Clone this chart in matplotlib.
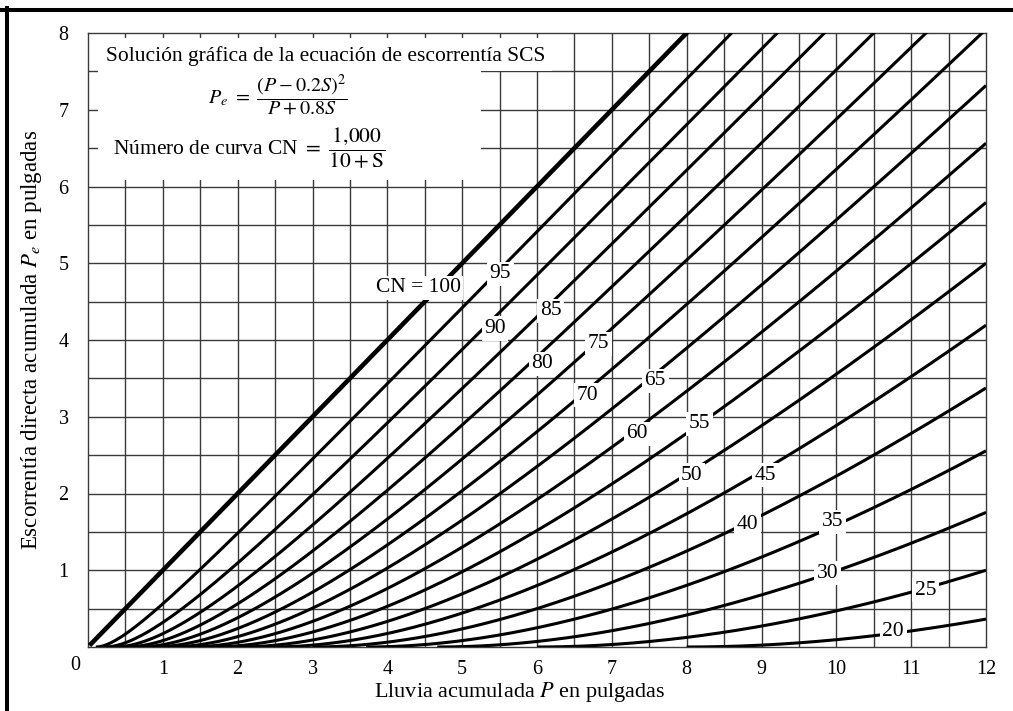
import numpy as np
import matplotlib
matplotlib.use("Agg")
import matplotlib.pyplot as plt
from matplotlib.patches import Rectangle
from matplotlib.lines import Line2D

plt.rcParams['font.family'] = ['Liberation Serif', 'DejaVu Serif']
plt.rcParams['mathtext.fontset'] = 'stix'

# ---- data ----
cn_values = [20, 25, 30, 35, 40, 45, 50, 55, 60, 65, 70, 75, 80, 85, 90, 95, 100]
label_text = ["20", "25", "30", "35", "40", "45", "50", "55", "60", "65",
              "70", "75", "80", "85", "90", "95", "CN = 100"]
label_x = [10.76, 11.19, 9.88, 9.95, 8.81, 9.05, 8.07, 8.17, 7.34, 7.58,
           6.67, 6.82, 6.07, 6.18, 5.44, 5.51, 4.41]
label_y = [0.20, 0.74, 0.96, 1.63, 1.59, 2.24, 2.24, 2.91, 2.78, 3.47,
           3.28, 3.95, 3.69, 4.38, 4.15, 4.86, 4.68]
x_ticks = [1, 2, 3, 4, 5, 6, 7, 8, 9, 10, 11, 12]
y_ticks = [1, 2, 3, 4, 5, 6, 7, 8]

W, H = 1013, 711
fig = plt.figure(figsize=(W / 100, H / 100), dpi=100)
ax = fig.add_axes([88 / W, (H - 647) / H, (986 - 88) / W, (647 - 33) / H])
ax.set_xlim(0, 12)
ax.set_ylim(0, 8)

# grid (manual, under the white box)
gc = '#3a3a3a'
ax.vlines(np.arange(0.5, 12, 0.5), 0, 8, colors=gc, lw=1.0, zorder=1)
ax.hlines(np.arange(0.5, 8, 0.5), 0, 12, colors=gc, lw=1.0, zorder=1)

# white box for the text block
ax.add_patch(Rectangle((0.14, 6.08), 5.25 - 0.14, 7.93 - 6.08, facecolor='white',
                       edgecolor='none', zorder=1.5))
ax.add_patch(Rectangle((0.14, 7.5), 6.2 - 0.14, 7.93 - 7.5, facecolor='white',
                       edgecolor='none', zorder=1.5))

# curves from the SCS equation shown on the chart
for cn in cn_values:
    S = 1000.0 / cn - 10.0
    P = np.linspace(0.2 * S, 12, 600)
    Pe = (P - 0.2 * S) ** 2 / (P + 0.8 * S)
    ax.plot(P, Pe, color='black', lw=3.3 if cn == 100 else 2.2,
            solid_capstyle='butt', zorder=3)

for t, x, y in zip(label_text, label_x, label_y):
    ax.text(x, y, t, ha='center', va='center', fontsize=15.5, zorder=4,
            bbox=dict(facecolor='white', edgecolor='none', pad=1.8))

# text block
ax.text(3.17, 7.70, "Solución gráfica de la ecuación de escorrentía SCS",
        ha='center', va='center', fontsize=15.5, zorder=4)
ax.text(2.53, 7.20, r"$P_e\ =\ \dfrac{(P - 0.2S)^2}{P + 0.8S}$",
        ha='center', va='center', fontsize=14.5, zorder=4)
ax.text(2.15, 6.50, r"Número de curva CN $=\ \dfrac{1{,}000}{10 + \mathrm{S}}$",
        ha='center', va='center', fontsize=15.5, zorder=4)

# axes styling
for s in ax.spines.values():
    s.set_color(gc)
    s.set_linewidth(1.0)
ax.set_xticks(x_ticks)
ax.set_yticks(y_ticks)
ax.tick_params(axis='both', length=0, labelsize=14.5)
ax.tick_params(axis='x', pad=9)
ax.tick_params(axis='y', pad=14)
ax.annotate("0", xy=(0, 0), xycoords='data', xytext=(-13, -19),
            textcoords='offset pixels', ha='center', va='center', fontsize=14.5)

fig.text(520 / W, 1 - 692 / H, r"Lluvia acumulada $\mathit{P}$ en pulgadas",
         fontsize=16, ha='center', va='center')
fig.text(32 / W, 1 - 340 / H,
         r"Escorrentía directa acumulada $\mathit{P_e}$ en pulgadas",
         fontsize=16.5, ha='center', va='center', rotation=90)

# figure border (top and left)
fig.add_artist(Line2D([0, 1], [1 - 9.5 / H, 1 - 9.5 / H], color='black', lw=2.9,
                      transform=fig.transFigure))
fig.add_artist(Line2D([7 / W, 7 / W], [0, 1 - 8 / H], color='black', lw=2.9,
                      transform=fig.transFigure))

fig.savefig("out.png", dpi=100)
